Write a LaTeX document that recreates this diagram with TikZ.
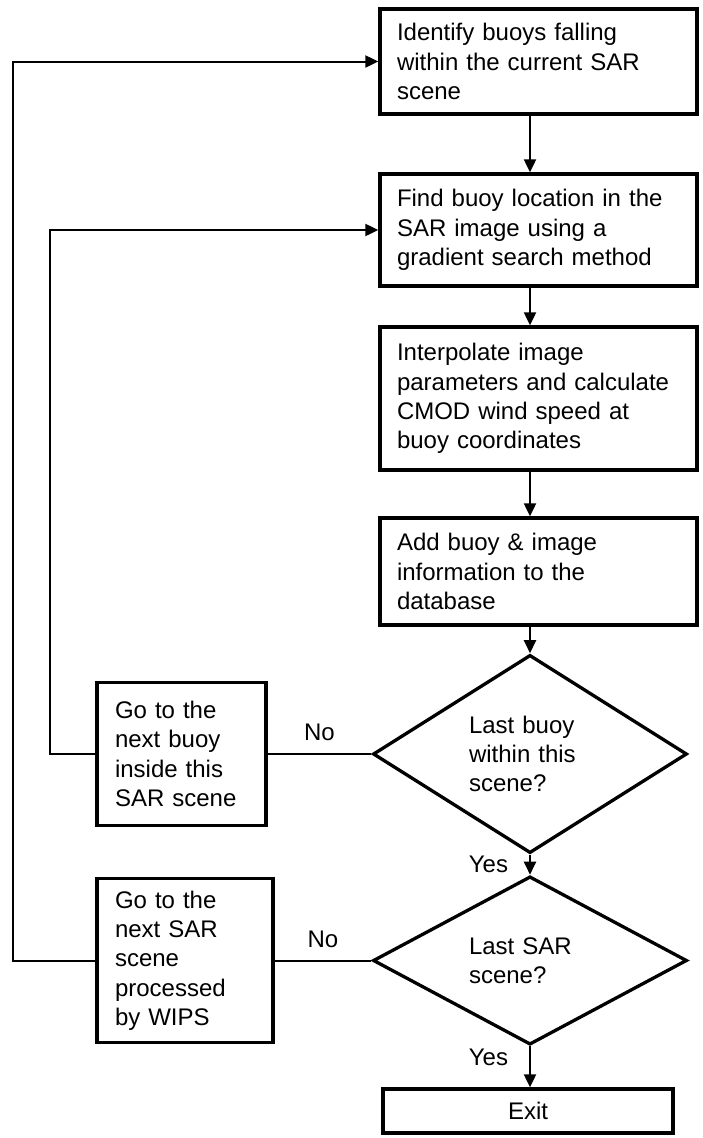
\documentclass[tikz,border=0pt]{standalone}
\usepackage{fontspec}
\setmainfont{Liberation Sans}
\usetikzlibrary{arrows.meta,shapes.geometric,calc}

\begin{document}
\begin{tikzpicture}[x=1pt,y=1pt,
  txt/.style={font=\fontsize{24}{29.3}\selectfont,text=black},
  procbox/.style={txt,draw=black,line width=3.3pt,fill=white,align=left,inner xsep=17pt,inner ysep=0pt},
  decision/.style={txt,diamond,draw=black,line width=3.3pt,align=left,inner sep=0pt,text width=122pt,minimum width=314pt,minimum height=158pt},
  flow/.style={line width=2pt,-{Triangle[length=13pt,width=12pt]}},
  link/.style={line width=2pt},
  lbl/.style={txt,inner sep=2pt}]
\useasboundingbox (0,0) rectangle (702,-1138);
% main column
\node[procbox,text width=283pt,minimum height=105pt] (b1) at (538.5,-61.5) {Identify buoys falling\\within the current SAR\\scene};
\node[procbox,text width=283pt,minimum height=112pt] (b2) at (538.5,-230) {Find buoy location in the\\SAR image using a\\gradient search method};
\node[procbox,text width=283pt,minimum height=143pt] (b3) at (538.5,-398.5) {Interpolate image\\parameters and calculate\\CMOD wind speed at\\buoy coordinates};
\node[procbox,text width=283pt,minimum height=107pt] (b4) at (538.5,-571.5) {Add buoy \& image\\information to the\\database};
\node[decision] (d1) at (530,-754) {Last buoy\\within this\\scene?};
\node[decision,minimum height=157pt] (d2) at (530,-960.5) {Last SAR\\scene?};
\node[procbox,align=center,inner xsep=0pt,minimum width=290pt,minimum height=44pt] (ex) at (528,-1111) {Exit};
% loop-back boxes
\node[procbox,text width=133pt,inner xsep=18pt,minimum height=143pt] (nb) at (181.5,-754) {Go to the\\next buoy\\inside this\\SAR scene};
\node[procbox,text width=140pt,inner xsep=18pt,minimum height=164pt] (ns) at (185,-960.5) {Go to the\\next SAR\\scene\\processed\\by WIPS};

\draw[flow] (b1.south -| d1) -- (b2.north -| d1);
\draw[flow] (b2.south -| d1) -- (b3.north -| d1);
\draw[flow] (b3.south -| d1) -- (b4.north -| d1);
\draw[flow] (b4.south -| d1) -- (d1.north);
\draw[flow] (d1.south) -- node[lbl,left=19pt] {Yes} (d2.north);
\draw[flow] (d2.south) -- node[lbl,left=19pt,pos=0.26] {Yes} (ex.north -| d2.south);
\draw[link] (d1.west) -- node[lbl,above=10pt] {No} (d1.west -| nb.east);
\draw[link] (d2.west) -- node[lbl,above=10pt] {No} (d2.west -| ns.east);
\draw[flow] (nb.west) -- ++(-45,0) |- (b2.west);
\draw[flow] (ns.west) -- ++(-82,0) |- (b1.west);
\end{tikzpicture}
\end{document}
